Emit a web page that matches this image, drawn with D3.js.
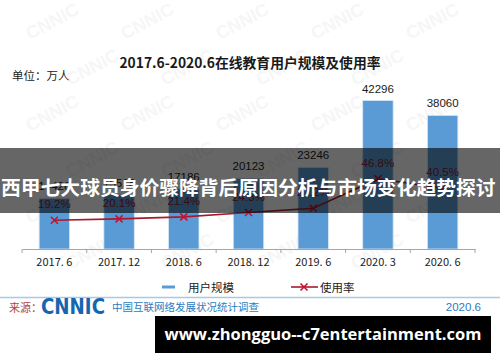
<!DOCTYPE html>
<html><head><meta charset="utf-8">
<script src="https://cdn.jsdelivr.net/npm/d3@7/dist/d3.min.js"></script>
<style>
html,body{margin:0;padding:0;background:#fff;}
svg{display:block;}
</style></head>
<body>
<svg id="c" width="500" height="362"></svg>
<script>
const categories = ["2017. 6","2017. 12","2018. 6","2018. 12","2019. 6","2020. 3","2020. 6"];
const users = [14426, 15518, 17186, 20123, 23246, 42296, 38060];
const rates = [19.2, 20.1, 21.4, 24.3, 27.2, 46.8, 40.5];
const title = "2017.6-2020.6在线教育用户规模及使用率";
const unitLabel = "单位：万人";
const legendLabels = ["用户规模", "使用率"];
const sourceLabel = "来源：";
const sourceOrg = "CNNIC";
const sourceText = "中国互联网络发展状况统计调查";
const sourceDate = "2020.6";
const overlayText = "西甲七大球员身价骤降背后原因分析与市场变化趋势探讨";
const footerUrl = "www.zhongguo--c7entertainment.com";

const svg = d3.select("#c");
const cjk = "'Noto Sans CJK SC','Noto Sans',sans-serif";
const latin = "'Liberation Sans',Arial,sans-serif";

// faint watermark (kept inside the frame)
const wm = svg.append("g");
for (let r = 0; r < 6; r++) {
  for (let c = 0; c < 5; c++) {
    const x = 30 + c * 95 + (r % 2) * 40;
    const y = 40 + r * 46;
    if (x > 440) continue;
    wm.append("text").attr("x", x).attr("y", y)
      .attr("transform", `rotate(-28 ${x} ${y})`)
      .attr("font-family", latin).attr("font-weight", "bold").attr("font-size", 18)
      .attr("fill", "#000").attr("opacity", 0.03).text("CNNIC");
  }
}

const baseY = 249;
const x = d3.scaleBand().domain(categories).range([22, 475]).padding(0);
const y = d3.scaleLinear().domain([0, 42296]).range([baseY, 100.5]);
const yr = d3.scaleLinear().domain([0, 100]).range([baseY, 99]);
const barW = x.bandwidth() * 0.47;

// title & unit
svg.append("text").attr("x", 250).attr("y", 68).attr("text-anchor", "middle")
  .attr("font-family", cjk).attr("font-weight", "bold").attr("font-size", 13.8)
  .attr("fill", "#1a1a1a").text(title);
svg.append("text").attr("x", 12).attr("y", 80)
  .attr("font-family", cjk).attr("font-size", 11.5).attr("fill", "#222").text(unitLabel);

// bars
svg.append("g").selectAll("rect").data(users).join("rect")
  .attr("x", (d, i) => x(categories[i]) + x.bandwidth() / 2 - barW / 2)
  .attr("width", barW)
  .attr("y", d => y(d))
  .attr("height", d => baseY - y(d))
  .attr("fill", "#5b9bd5")
  .attr("stroke", "#d6e6f4").attr("stroke-width", 0.8);

svg.append("g").selectAll("text").data(users).join("text")
  .attr("x", (d, i) => x(categories[i]) + x.bandwidth() / 2)
  .attr("y", d => y(d) - 8)
  .attr("text-anchor", "middle")
  .attr("font-family", latin).attr("font-size", 11.5).attr("fill", "#1a1a1a")
  .text(d => d);

// axis
const ax = svg.append("g").attr("transform", `translate(0,${baseY})`)
  .call(d3.axisBottom(x).tickSize(0).tickPadding(9));
ax.select(".domain").attr("stroke", "#a6a6a6");
ax.selectAll(".tick text").attr("font-family", cjk).attr("font-size", 11).attr("fill", "#222");
const edges = categories.map(c => x(c)).concat([x(categories[categories.length - 1]) + x.bandwidth()]);
svg.append("g").selectAll("line").data(edges).join("line")
  .attr("x1", d => d).attr("x2", d => d).attr("y1", baseY).attr("y2", baseY + 4)
  .attr("stroke", "#a6a6a6");

// rate line
const lineColor = "#a8192e";
const cx = (d, i) => x(categories[i]) + x.bandwidth() / 2;
svg.append("path").datum(rates)
  .attr("d", d3.line().x(cx).y(d => yr(d)))
  .attr("fill", "none").attr("stroke", lineColor).attr("stroke-width", 1.6);
const mk = svg.append("g").selectAll("g").data(rates).join("g")
  .attr("transform", (d, i) => `translate(${cx(d, i)},${yr(d)})`);
mk.append("path").attr("d", "M-3.5,-3.5L3.5,3.5M-3.5,3.5L3.5,-3.5")
  .attr("stroke", "#c8102e").attr("stroke-width", 1.6);
svg.append("g").selectAll("text").data(rates).join("text")
  .attr("x", cx).attr("y", d => yr(d) - 12)
  .attr("text-anchor", "middle")
  .attr("font-family", latin).attr("font-size", 11.5).attr("fill", "#8e1b2c")
  .text(d => d.toFixed(1) + "%");

// legend
const lg = svg.append("g");
lg.append("line").attr("x1", 162).attr("x2", 175).attr("y1", 287).attr("y2", 287)
  .attr("stroke", "#5b9bd5").attr("stroke-width", 3);
lg.append("text").attr("x", 188).attr("y", 291.5).attr("font-family", cjk).attr("font-size", 11.5)
  .attr("fill", "#222").text(legendLabels[0]);
lg.append("line").attr("x1", 291).attr("x2", 318).attr("y1", 287).attr("y2", 287)
  .attr("stroke", lineColor).attr("stroke-width", 1.6);
lg.append("path").attr("d", "M300.5,283.5L307.5,290.5M300.5,290.5L307.5,283.5")
  .attr("stroke", "#c8102e").attr("stroke-width", 1.6);
lg.append("text").attr("x", 320).attr("y", 291.5).attr("font-family", cjk).attr("font-size", 11.5)
  .attr("fill", "#222").text(legendLabels[1]);

// footer
svg.append("line").attr("x1", 0).attr("x2", 500).attr("y1", 297.5).attr("y2", 297.5)
  .attr("stroke", "#a9c9e2").attr("stroke-width", 1.5);
svg.append("text").attr("x", 9).attr("y", 311.5).attr("font-family", cjk).attr("font-size", 11)
  .attr("fill", "#b0463a").text(sourceLabel);
svg.append("text").attr("x", 41).attr("y", 314).attr("font-family", "'DejaVu Sans',sans-serif")
  .attr("font-weight", "bold").attr("font-size", 21).attr("textLength", 64).attr("lengthAdjust", "spacingAndGlyphs")
  .attr("fill", "#1565b0").text(sourceOrg);
svg.append("text").attr("x", 112).attr("y", 311).attr("font-family", cjk).attr("font-size", 10.5)
  .attr("fill", "#2b7bbf").text(sourceText);
svg.append("text").attr("x", 481).attr("y", 311).attr("text-anchor", "end").attr("font-family", latin)
  .attr("font-size", 11.5).attr("fill", "#2b7bbf").text(sourceDate);

// overlay band
svg.append("rect").attr("x", 0).attr("y", 148).attr("width", 500).attr("height", 65)
  .attr("fill", "#000").attr("opacity", 0.6);
svg.append("text").attr("x", 1).attr("y", 194.5).attr("font-family", cjk).attr("font-weight", "bold")
  .attr("font-size", 19.8).attr("fill", "#fff").text(overlayText);

// footer black box
svg.append("rect").attr("x", 155).attr("y", 316).attr("width", 336).attr("height", 37).attr("fill", "#000");
svg.append("text").attr("x", 323).attr("y", 340).attr("text-anchor", "middle")
  .attr("font-family", "'Open Sans',sans-serif").attr("font-weight", "bold").attr("font-size", 16.5)
  .attr("fill", "#fff").text(footerUrl);
</script>
</body></html>
